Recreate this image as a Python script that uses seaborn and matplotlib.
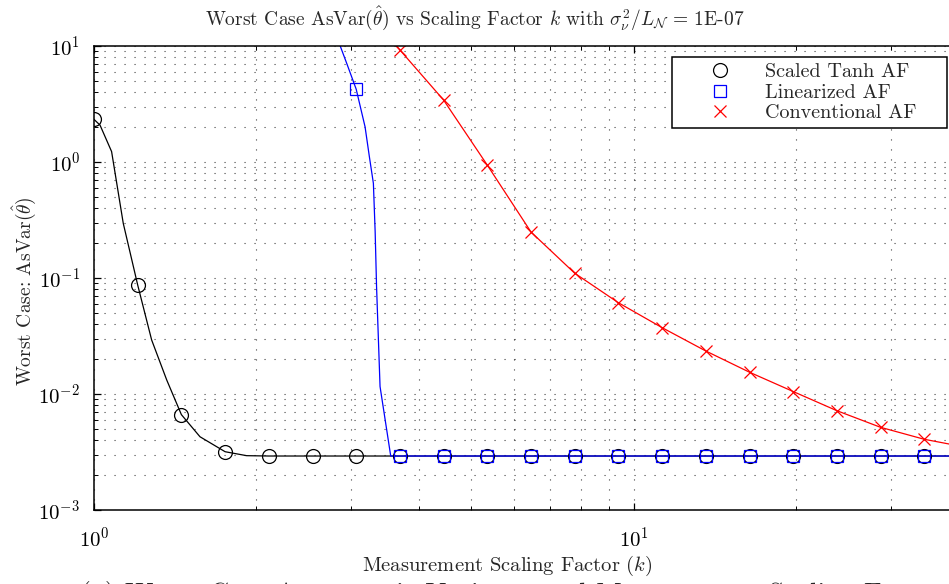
import matplotlib
matplotlib.use("Agg")
import matplotlib.pyplot as plt
from matplotlib.lines import Line2D
import seaborn as sns

# ---------------- data ----------------
# marker positions (scaling factor k)
k_markers = [1.000, 1.205, 1.452, 1.750, 2.109, 2.541, 3.062, 3.690, 4.446, 5.358,
             6.457, 7.780, 9.376, 11.30, 13.61, 16.41, 19.77, 23.82, 28.71, 34.59]

# Scaled Tanh AF
tanh_marker_vals = [2.33, 0.087, 0.00664, 0.00318, 0.00292, 0.00292, 0.00292, 0.00292,
                    0.00292, 0.00292, 0.00292, 0.00292, 0.00292, 0.00292, 0.00292,
                    0.00292, 0.00292, 0.00292, 0.00292, 0.00292]
tanh_line_k = [1.000, 1.026, 1.078, 1.133, 1.205, 1.279, 1.364, 1.452, 1.572, 1.750,
               1.918, 2.109, 40.0]
tanh_line_vals = [2.33, 2.08, 1.23, 0.296, 0.087, 0.0292, 0.0132, 0.00664, 0.00428,
                  0.00318, 0.00294, 0.00292, 0.00292]

# Linearized AF
lin_marker_k = [3.062, 3.690, 4.446, 5.358, 6.457, 7.780, 9.376, 11.30, 13.61, 16.41,
                19.77, 23.82, 28.71, 34.59]
lin_marker_vals = [4.24, 0.00292, 0.00292, 0.00292, 0.00292, 0.00292, 0.00292, 0.00292,
                   0.00292, 0.00292, 0.00292, 0.00292, 0.00292, 0.00292]
lin_line_k = [2.80, 2.86, 2.94, 3.062, 3.18, 3.24, 3.295, 3.32, 3.34, 3.39, 3.548, 40.0]
lin_line_vals = [12.5, 10.0, 7.1, 4.24, 2.01, 1.10, 0.655, 0.25, 0.084, 0.0116,
                 0.00292, 0.00292]

# Conventional AF
conv_marker_k = [3.690, 4.446, 5.358, 6.457, 7.780, 9.376, 11.30, 13.61, 16.41, 19.77,
                 23.82, 28.71, 34.59]
conv_marker_vals = [9.24, 3.42, 0.94, 0.249, 0.110, 0.0612, 0.0373, 0.0235, 0.0154,
                    0.0105, 0.00718, 0.00516, 0.00407]
conv_line_k = [3.55, 3.690, 4.446, 5.358, 6.457, 7.780, 9.376, 11.30, 13.61, 16.41,
               19.77, 23.82, 28.71, 34.59, 38.4, 40.0]
conv_line_vals = [11.5, 9.24, 3.42, 0.94, 0.249, 0.110, 0.0612, 0.0373, 0.0235, 0.0154,
                  0.0105, 0.00718, 0.00516, 0.00407, 0.00371, 0.00362]

labels = ["Scaled Tanh AF", "Linearized AF", "Conventional AF"]

# ---------------- style ----------------
sns.set_theme(style="white")
plt.rcParams.update({
    "font.family": ["cmr10", "DejaVu Serif"],
    "mathtext.fontset": "cm",
    "axes.formatter.use_mathtext": True,
    "axes.unicode_minus": False,
})

W, H = 949, 584
fig = plt.figure(figsize=(W / 100, H / 100), dpi=100)
ax = fig.add_axes([94 / W, 1 - 510 / H, (949 - 94) / W, (510 - 46) / H])
ax.set_xscale("log")
ax.set_yscale("log")
ax.set_xlim(1, 38.44)
ax.set_ylim(1e-3, 1e1)

lw = 0.9
sns.lineplot(x=tanh_line_k, y=tanh_line_vals, ax=ax, color="black", lw=lw,
             sort=False, estimator=None)
sns.lineplot(x=lin_line_k, y=lin_line_vals, ax=ax, color="blue", lw=lw,
             sort=False, estimator=None)
sns.lineplot(x=conv_line_k, y=conv_line_vals, ax=ax, color="red", lw=lw,
             sort=False, estimator=None)

sns.lineplot(x=k_markers, y=tanh_marker_vals, ax=ax, linestyle="", marker="o",
             markersize=10, markerfacecolor="none", markeredgecolor="black",
             markeredgewidth=0.9, sort=False, estimator=None)
sns.lineplot(x=lin_marker_k, y=lin_marker_vals, ax=ax, linestyle="", marker="s",
             markersize=8.5, markerfacecolor="none", markeredgecolor="blue",
             markeredgewidth=0.9, sort=False, estimator=None)
sns.lineplot(x=conv_marker_k, y=conv_marker_vals, ax=ax, linestyle="", marker="x",
             markersize=8.5, color="red", markeredgecolor="red",
             markeredgewidth=0.9, sort=False, estimator=None)

# grid
ax.grid(True, which="both", color="black", alpha=0.75, lw=0.8,
        linestyle=(0, (1, 8)))
ax.set_axisbelow(True)

# spines and ticks
for s in ["left", "bottom", "top"]:
    ax.spines[s].set_color("black")
    ax.spines[s].set_linewidth(1.1)
ax.spines["right"].set_visible(False)
ax.tick_params(which="both", direction="in", top=True, right=False, left=True,
               bottom=True, colors="black")
ax.tick_params(which="major", length=5, width=0.9, labelsize=15, pad=10)
ax.tick_params(which="minor", length=3, width=0.7)
ax.tick_params(axis="x", which="major", pad=12)

# texts
fig.text(475 / W, 1 - 18 / H,
         r"Worst Case AsVar($\hat{\theta}$) vs Scaling Factor $k$ with "
         r"$\sigma_\nu^2/L_\mathcal{N}$ = 1E-07",
         ha="center", va="center", fontsize=14)
fig.text(507 / W, 1 - 566 / H, r"Measurement Scaling Factor ($k$)",
         ha="center", va="center", fontsize=14.8)
fig.text(24 / W, 1 - 291 / H, r"Worst Case: AsVar($\hat{\theta}$)",
         ha="center", va="center", rotation=90, fontsize=14)
fig.text(80 / W, 1 - 580.5 / H,
         "(a) Worst Case Asymptotic Variance and Measurement Scaling Factor",
         ha="left", va="top", fontsize=20)

# legend
handles = [
    Line2D([], [], linestyle="", marker="o", markersize=10, markerfacecolor="none",
           markeredgecolor="black", markeredgewidth=0.9),
    Line2D([], [], linestyle="", marker="s", markersize=8.5, markerfacecolor="none",
           markeredgecolor="blue", markeredgewidth=0.9),
    Line2D([], [], linestyle="", marker="x", markersize=8.5, color="red",
           markeredgewidth=0.9),
]
leg = ax.legend(handles, labels, loc="upper left", mode="expand",
                bbox_to_anchor=(672 / W, 1 - 128 / H, 275 / W, 71 / H),
                bbox_transform=fig.transFigure,
                borderaxespad=0, fancybox=False, framealpha=1, edgecolor="black",
                fontsize=14.5, handlelength=4.2, handletextpad=0.1, labelspacing=0.12,
                borderpad=0.3)
leg.get_frame().set_linewidth(1.1)

fig.savefig("out.png", dpi=100)
